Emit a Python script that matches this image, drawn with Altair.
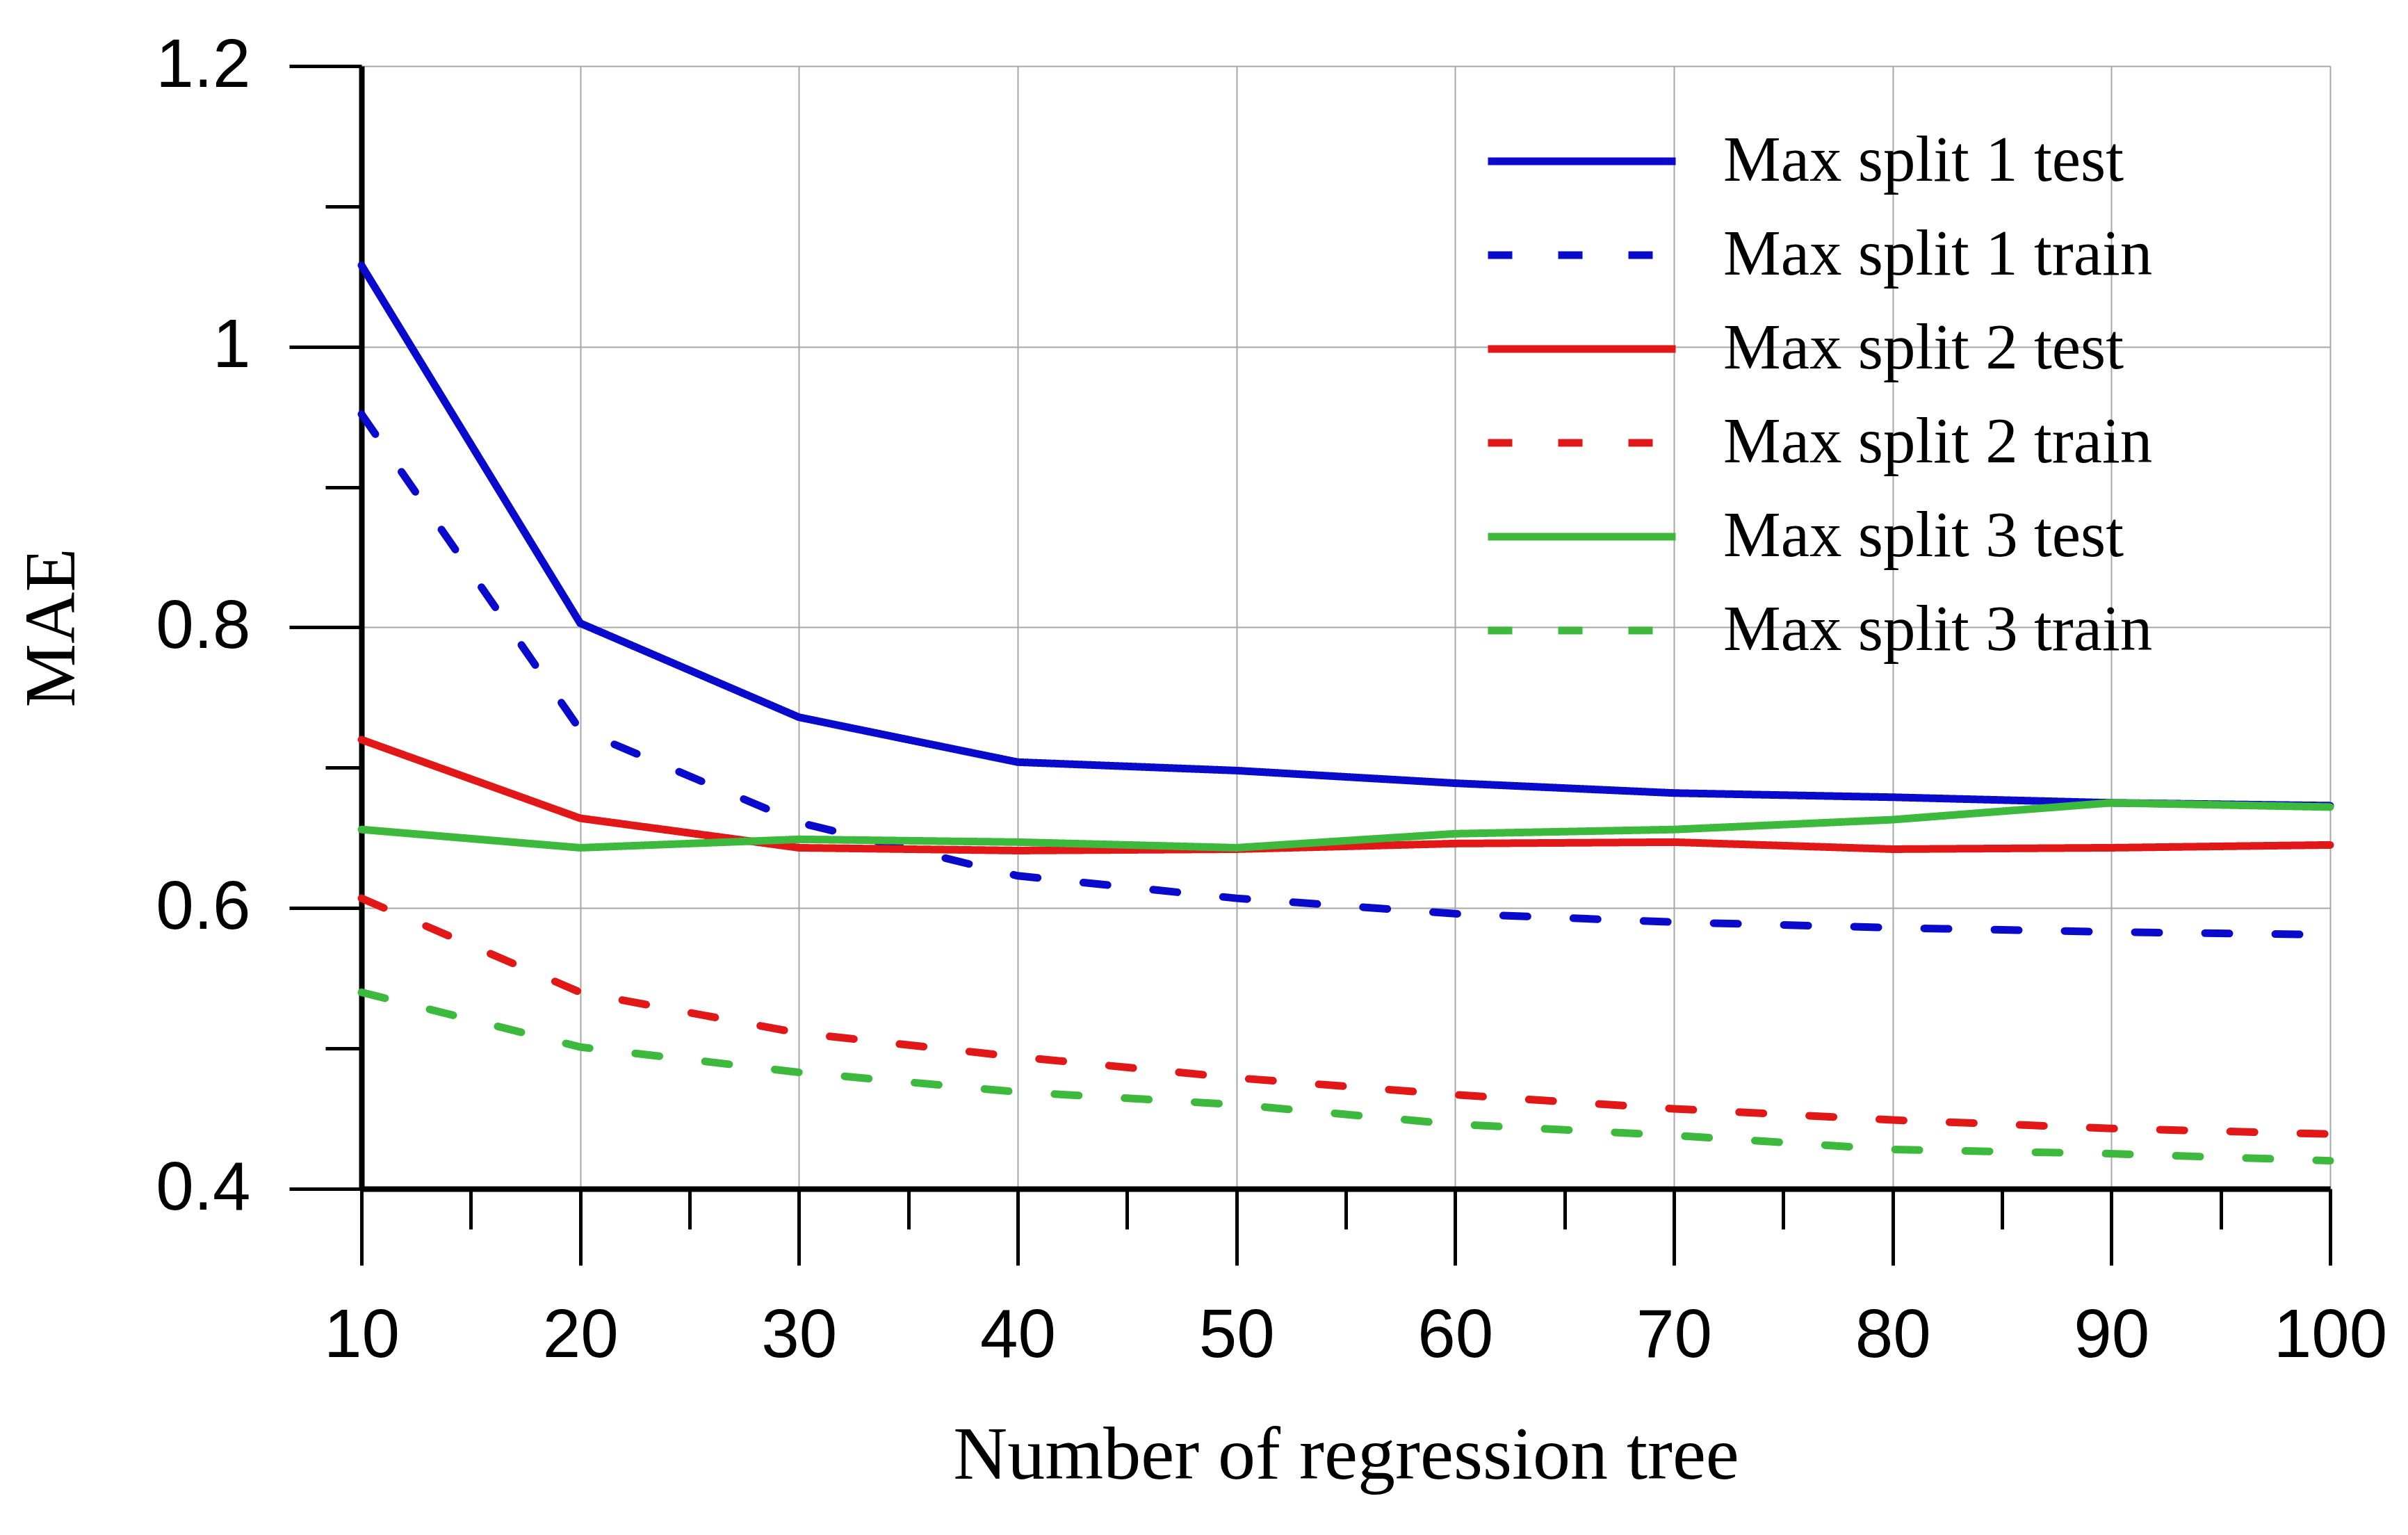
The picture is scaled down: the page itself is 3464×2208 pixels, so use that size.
import altair as alt
import pandas as pd

# valores
trees = [10, 20, 30, 40, 50, 60, 70, 80, 90, 100]
split1_test = [1.058, 0.803, 0.736, 0.704, 0.698, 0.689, 0.682, 0.679, 0.675, 0.673]
split1_train = [0.952, 0.727, 0.661, 0.623, 0.607, 0.596, 0.590, 0.586, 0.583, 0.581]
split2_test = [0.720, 0.664, 0.643, 0.641, 0.642, 0.646, 0.647, 0.642, 0.643, 0.645]
split2_train = [0.607, 0.540, 0.511, 0.494, 0.479, 0.467, 0.457, 0.449, 0.443, 0.439]
split3_test = [0.656, 0.643, 0.649, 0.647, 0.643, 0.653, 0.656, 0.663, 0.675, 0.672]
split3_train = [0.540, 0.501, 0.483, 0.469, 0.460, 0.446, 0.438, 0.428, 0.425, 0.420]

series_names = [
    "Max split 1 test", "Max split 1 train",
    "Max split 2 test", "Max split 2 train",
    "Max split 3 test", "Max split 3 train",
]
series_values = [split1_test, split1_train, split2_test, split2_train, split3_test, split3_train]
series_colors = ["#0A0ACC", "#0A0ACC", "#E21818", "#E21818", "#3DBA3D", "#3DBA3D"]
series_dash = [[1, 0], [35, 66], [1, 0], [35, 66], [1, 0], [35, 66]]

x_ticks = [10, 15, 20, 25, 30, 35, 40, 45, 50, 55, 60, 65, 70, 75, 80, 85, 90, 95, 100]
y_ticks = [0.4, 0.5, 0.6, 0.7, 0.8, 0.9, 1.0, 1.1, 1.2]

# tabela longa para o Altair
rows = []
for name, values in zip(series_names, series_values):
    for t, v in zip(trees, values):
        rows.append({"trees": t, "mae": v, "series": name})
df = pd.DataFrame(rows)

x_major = "datum.value % 10 == 0"
y_major = "round(datum.value * 10) % 2 == 0"

legend = alt.Legend(
    orient="none",
    legendX=1615,
    legendY=92,
    symbolType="stroke",
    symbolSize=72900,
    symbolStrokeWidth=11,
    labelFont="Liberation Serif",
    labelFontSize=93,
    labelColor="black",
    labelOffset=63,
    labelLimit=1000,
    clipHeight=90,
    rowPadding=42,
    padding=0,
)

chart = alt.Chart(df).mark_line(strokeWidth=11, strokeCap="round").encode(
    x=alt.X(
        "trees:Q",
        title="Number of regression tree",
        scale=alt.Scale(domain=[10, 100], nice=False),
        axis=alt.Axis(
            values=x_ticks,
            labelExpr=f"{x_major} ? datum.label : ''",
            tickSize={"condition": {"test": x_major, "value": 110}, "value": 58},
            gridOpacity={"condition": {"test": x_major, "value": 1}, "value": 0},
            labelPadding=54,
            titlePadding=70,
            titleFontSize=108,
            maxExtent=500,
        ),
    ),
    y=alt.Y(
        "mae:Q",
        title="MAE",
        scale=alt.Scale(domain=[0.4, 1.2], nice=False),
        axis=alt.Axis(
            values=y_ticks,
            format="~g",
            labelExpr=f"{y_major} ? datum.label : ''",
            tickSize={"condition": {"test": y_major, "value": 104}, "value": 52},
            gridOpacity={"condition": {"test": y_major, "value": 1}, "value": 0},
            labelPadding=56,
            titlePadding=95,
            titleFontSize=103,
            maxExtent=500,
        ),
    ),
    color=alt.Color(
        "series:N",
        title=None,
        scale=alt.Scale(domain=series_names, range=series_colors),
        legend=legend,
    ),
    strokeDash=alt.StrokeDash(
        "series:N",
        title=None,
        scale=alt.Scale(domain=series_names, range=series_dash),
        legend=legend,
    ),
).properties(
    width=2832,
    height=1615,
    padding={"left": 16, "top": 38, "right": 20, "bottom": 20},
).configure_view(
    stroke=None
).configure_axis(
    domainColor="black",
    domainWidth=8,
    tickColor="black",
    tickWidth=5,
    gridColor="#A8A8A8",
    gridWidth=2,
    labelFont="Liberation Sans",
    labelFontSize=98,
    labelColor="black",
    labelFlush=False,
    labelOverlap=False,
    titleFont="Liberation Serif",
    titleFontWeight="normal",
    titleColor="black",
)

chart.save("out.html", embed_options={"renderer": "svg", "actions": False})
